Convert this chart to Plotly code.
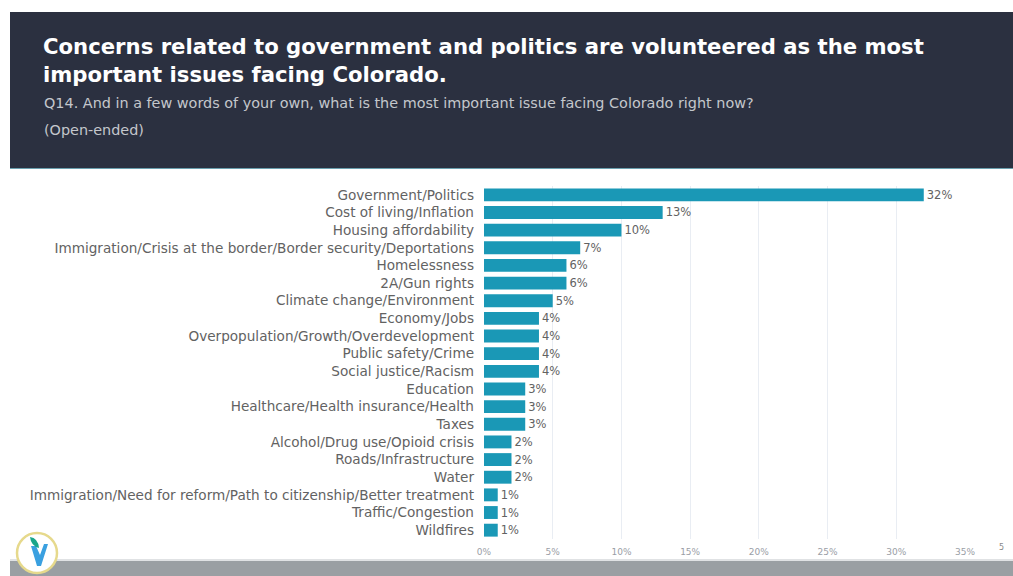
import plotly.graph_objects as go

categories = [
    "Government/Politics",
    "Cost of living/Inflation",
    "Housing affordability",
    "Immigration/Crisis at the border/Border security/Deportations",
    "Homelessness",
    "2A/Gun rights",
    "Climate change/Environment",
    "Economy/Jobs",
    "Overpopulation/Growth/Overdevelopment",
    "Public safety/Crime",
    "Social justice/Racism",
    "Education",
    "Healthcare/Health insurance/Health",
    "Taxes",
    "Alcohol/Drug use/Opioid crisis",
    "Roads/Infrastructure",
    "Water",
    "Immigration/Need for reform/Path to citizenship/Better treatment",
    "Traffic/Congestion",
    "Wildfires",
]
values = [0.32, 0.13, 0.10, 0.07, 0.06, 0.06, 0.05, 0.04, 0.04, 0.04, 0.04,
          0.03, 0.03, 0.03, 0.02, 0.02, 0.02, 0.01, 0.01, 0.01]
value_labels = ["32%", "13%", "10%", "7%", "6%", "6%", "5%", "4%", "4%", "4%", "4%",
                "3%", "3%", "3%", "2%", "2%", "2%", "1%", "1%", "1%"]
x_ticks = [0, 0.05, 0.10, 0.15, 0.20, 0.25, 0.30, 0.35]
x_tick_labels = ["0%", "5%", "10%", "15%", "20%", "25%", "30%", "35%"]

title_line1 = "Concerns related to government and politics are volunteered as the most"
title_line2 = "important issues facing Colorado."
subtitle = "Q14. And in a few words of your own, what is the most important issue facing Colorado right now?"
subtitle2 = "(Open-ended)"

W, H = 1013, 576
ML, MR, MT, MB = 484, 48, 186, 37
PW, PH = W - ML - MR, H - MT - MB


def px(x):
    return (x - ML) / PW


def py(y):
    return (H - MB - y) / PH


BAR = "#1a98b6"
TXT = "#626262"
FONT = "DejaVu Sans"

fig = go.Figure(go.Bar(
    x=values, y=categories, orientation="h",
    marker=dict(color=BAR, line=dict(width=0)),
    text=value_labels, textposition="outside", cliponaxis=False, constraintext="none",
    textfont=dict(family=FONT, size=11.5, color=TXT),
    hoverinfo="skip",
))

shapes = [
    # header band
    dict(type="rect", xref="paper", yref="paper", x0=px(10), x1=px(1013), y0=py(168), y1=py(12),
         fillcolor="#2b3040", line=dict(width=0), layer="below"),
    dict(type="line", xref="paper", yref="paper", x0=px(10), x1=px(1013), y0=py(168.5), y1=py(168.5),
         line=dict(color="#6a9fae", width=1.2), layer="below"),
    # bottom bar
    dict(type="rect", xref="paper", yref="paper", x0=px(10), x1=px(1013), y0=py(576), y1=py(561),
         fillcolor="#9a9fa3", line=dict(width=0), layer="below"),
    dict(type="line", xref="paper", yref="paper", x0=px(10), x1=px(1013), y0=py(560), y1=py(560),
         line=dict(color="#d6d9db", width=1.5), layer="below"),
    # logo
    dict(type="circle", xref="paper", yref="paper", x0=px(17), x1=px(57), y0=py(573), y1=py(533),
         fillcolor="white", line=dict(color="#e6d98c", width=2.5), layer="above"),
    dict(type="path", xref="paper", yref="paper",
         path=f"M {px(31)},{py(546)} L {px(36)},{py(546)} L {px(40)},{py(555)} L {px(44)},{py(544)} "
              f"L {px(48)},{py(544)} L {px(41)},{py(566)} L {px(37)},{py(566)} Z",
         fillcolor="#3aa0e0", line=dict(width=0), layer="above"),
    dict(type="path", xref="paper", yref="paper",
         path=f"M {px(30)},{py(537)} Q {px(38)},{py(538)} {px(39)},{py(548)} Q {px(31)},{py(546)} {px(30)},{py(537)} Z",
         fillcolor="#1aa58a", line=dict(width=0), layer="above"),
]

annotations = [
    dict(text=title_line1 + "<br>" + title_line2, xref="paper", yref="paper",
         x=px(41), y=py(32), xanchor="left", yanchor="top", showarrow=False, align="left",
         font=dict(family=FONT, size=21.2, color="white", weight="bold"),
         ),
    dict(text=subtitle, xref="paper", yref="paper", x=px(42), y=py(103), xanchor="left", yanchor="middle",
         showarrow=False, font=dict(family=FONT, size=14.4, color="#c4c7cc")),
    dict(text=subtitle2, xref="paper", yref="paper", x=px(42), y=py(130), xanchor="left", yanchor="middle",
         showarrow=False, font=dict(family=FONT, size=14.4, color="#c4c7cc")),
    dict(text="5", xref="paper", yref="paper", x=px(1001), y=py(547), xanchor="center", yanchor="middle",
         showarrow=False, font=dict(family=FONT, size=8, color="#888")),
]

fig.update_layout(
    width=W, height=H,
    margin=dict(l=ML, r=MR, t=MT, b=MB, pad=0),
    paper_bgcolor="white", plot_bgcolor="white",
    bargap=0.27,
    showlegend=False,
    shapes=shapes,
    annotations=annotations,
    xaxis=dict(range=[0, 0.35], tickvals=x_ticks, ticktext=x_tick_labels,
               showgrid=True, gridcolor="#e9edf3", gridwidth=1, zeroline=False, showline=False,
               ticks="", tickfont=dict(family=FONT, size=9, color="#9a9ea6"),
               ticklabelstandoff=6, fixedrange=True),
    yaxis=dict(autorange="reversed", showgrid=False, zeroline=False, showline=False, ticks="",
               tickfont=dict(family=FONT, size=13.6, color=TXT), ticklabelstandoff=9,
               fixedrange=True),
)

fig.write_html("out.html")
